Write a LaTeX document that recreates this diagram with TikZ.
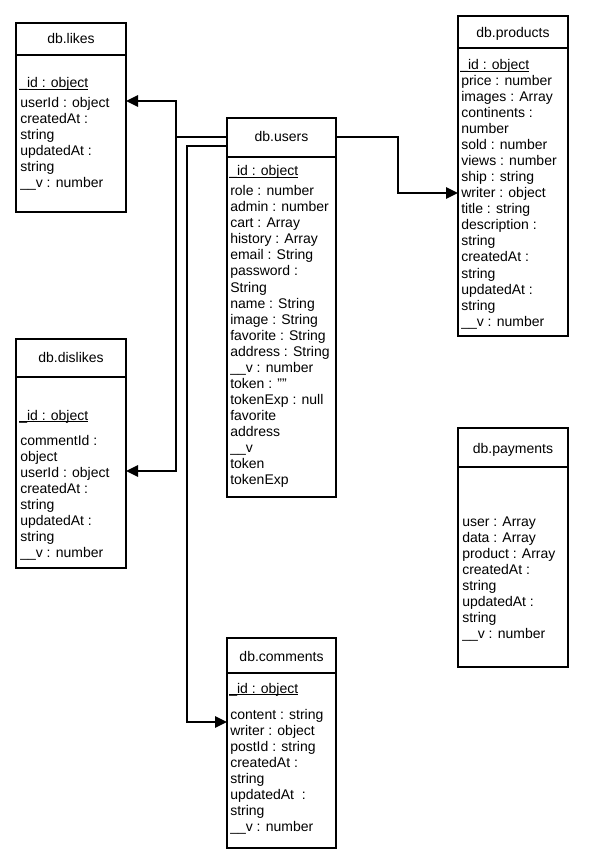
\documentclass[tikz,border=0pt]{standalone}
\usepackage{fontspec}
\setmainfont{Liberation Sans}
\usetikzlibrary{arrows.meta}
\newcommand\ulid[1]{\setbox0\hbox{#1}\rlap{\rule[-1.6pt]{\wd0}{0.7pt}}\box0}
\tikzset{
  tbl/.style={draw, rectangle, line width=1.5pt, inner sep=0pt, outer sep=0pt},
  hline/.style={line width=1.5pt},
  ttl/.style={anchor=base, inner sep=0pt, font=\fontsize{10.5}{12}\selectfont},
  fld/.style={anchor=base west, inner sep=0pt, font=\fontsize{10.5}{12}\selectfont},
  conn/.style={line width=1.5pt},
  arr/.style={-{Triangle[length=9pt,width=8.5pt]}}
}
% name, x1, y1, x2, y2, header line y, title baseline y, title
\newcommand\mkTable[8]{%
  \node[tbl, minimum width={(#4-#2)*0.75pt}, minimum height={(#5-#3)*0.75pt}] (#1) at ({(#2+#4)/2},{(#3+#5)/2}) {};
  \draw[hline] (#1.north west) ++(0,{#6-#3}) coordinate (#1-hl) -- (#1-hl -| #1.east);
  \node[ttl] (#1-t) at ({(#2+#4)/2},{#7+1}) {#8};
}
% name, x, first baseline y, list
\newcommand\mkFields[4]{%
  \foreach \t [count=\i] in {#4} {\node[fld] (#1-f\i) at (#2,{#3+2+16*(\i-1)}) {\t};}
}
\begin{document}
\begin{tikzpicture}[x=0.75pt,y=-0.75pt]
\useasboundingbox (0,0) rectangle (591,855);

% db.likes
\mkTable{likes}{16}{23}{126}{212}{55}{43}{db.likes}
\node[fld] (likes-id) at (19,88) {\ulid{\_id : object}};
\mkFields{likes}{20}{106}{userId : object, createdAt :, string, updatedAt :, string, \_\_v : number}

% db.users
\mkTable{users}{227}{118}{336}{497}{157}{141}{db.users}
\node[fld] (users-id) at (229,176) {\ulid{\_id : object}};
\mkFields{users}{230}{194}{role : number, admin : number, cart : Array, history : Array, email : String, password :, String, name : String, image : String, favorite : String, address : String, \_\_v : number, token : "", tokenExp : null, favorite, address, \_\_v, token, tokenExp}

% db.products
\mkTable{products}{458}{16}{568}{336}{48}{37}{db.products}
\node[fld] (products-id) at (460,70) {\ulid{\_id : object}};
\mkFields{products}{461}{84}{price : number, images : Array, continents :, number, sold : number, views : number, ship : string, writer : object, title : string, description :, string, createdAt :, string, updatedAt :, string, \_\_v : number}

% db.dislikes
\mkTable{dislikes}{16}{339}{126}{568}{377}{361}{db.dislikes}
\node[fld] (dislikes-id) at (19,420) {\ulid{\_id : object}};
\mkFields{dislikes}{20}{443}{commentId :, object, userId : object, createdAt :, string, updatedAt :, string, \_\_v : number}

% db.payments
\mkTable{payments}{458}{428}{568}{667}{467}{452}{db.payments}
\mkFields{payments}{462}{524}{user : Array, data : Array, product : Array, createdAt :, string, updatedAt :, string, \_\_v : number}

% db.comments
\mkTable{comments}{227}{638}{336}{848}{673}{660}{db.comments}
\node[fld] (comments-id) at (229,693) {\ulid{\_id : object}};
\mkFields{comments}{230}{717}{content : string, writer : object, postId : string, createdAt :, string, updatedAt~ :, string, \_\_v : number}

% connector bend points and entry points
\coordinate (jA) at (176,137);
\coordinate (jB) at (187,146);
\coordinate (jC) at (398,137);
\path (likes.north east) ++(0,78) coordinate (likesIn);
\path (dislikes.north east) ++(0,132) coordinate (dislikesIn);
\path (products.north west) ++(0,177) coordinate (productsIn);
\path (comments.north west) ++(0,84) coordinate (commentsIn);

\draw[conn,arr] (users.west |- jA) -- (jA) |- (likesIn);
\draw[conn,arr] (users.west |- jA) -- (jA) |- (dislikesIn);
\draw[conn,arr] (users.west |- jB) -- (jB) |- (commentsIn);
\draw[conn,arr] (users.east |- jC) -- (jC) |- (productsIn);
\end{tikzpicture}
\end{document}
